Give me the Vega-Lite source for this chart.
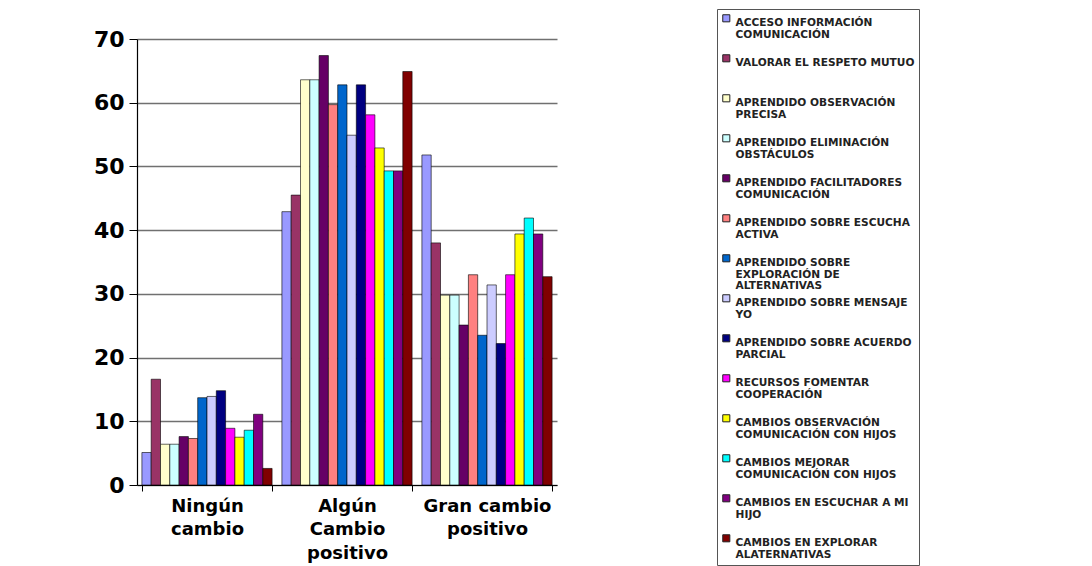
{
  "$schema": "https://vega.github.io/schema/vega-lite/v6.json",
  "width": 420,
  "height": 446,
  "autosize": "none",
  "padding": {"left": 137, "top": 39, "right": 535, "bottom": 81},
  "background": "white",
  "data": {
    "values": [
      {"grupo": "Ningún|cambio", "serie": "ACCESO INFORMACIÓN|COMUNICACIÓN", "valor": 5.1},
      {"grupo": "Ningún|cambio", "serie": "VALORAR EL RESPETO MUTUO", "valor": 16.6},
      {"grupo": "Ningún|cambio", "serie": "APRENDIDO OBSERVACIÓN|PRECISA", "valor": 6.4},
      {"grupo": "Ningún|cambio", "serie": "APRENDIDO ELIMINACIÓN|OBSTÁCULOS", "valor": 6.4},
      {"grupo": "Ningún|cambio", "serie": "APRENDIDO FACILITADORES|COMUNICACIÓN", "valor": 7.6},
      {"grupo": "Ningún|cambio", "serie": "APRENDIDO SOBRE ESCUCHA|ACTIVA", "valor": 7.3},
      {"grupo": "Ningún|cambio", "serie": "APRENDIDO SOBRE|EXPLORACIÓN DE|ALTERNATIVAS", "valor": 13.7},
      {"grupo": "Ningún|cambio", "serie": "APRENDIDO SOBRE MENSAJE|YO", "valor": 13.9},
      {"grupo": "Ningún|cambio", "serie": "APRENDIDO SOBRE ACUERDO|PARCIAL", "valor": 14.8},
      {"grupo": "Ningún|cambio", "serie": "RECURSOS FOMENTAR|COOPERACIÓN", "valor": 8.9},
      {"grupo": "Ningún|cambio", "serie": "CAMBIOS OBSERVACIÓN|COMUNICACIÓN CON HIJOS", "valor": 7.5},
      {"grupo": "Ningún|cambio", "serie": "CAMBIOS MEJORAR|COMUNICACIÓN CON HIJOS", "valor": 8.6},
      {"grupo": "Ningún|cambio", "serie": "CAMBIOS EN ESCUCHAR A MI|HIJO", "valor": 11.1},
      {"grupo": "Ningún|cambio", "serie": "CAMBIOS EN EXPLORAR|ALATERNATIVAS", "valor": 2.6},
      {"grupo": "Algún|Cambio|positivo", "serie": "ACCESO INFORMACIÓN|COMUNICACIÓN", "valor": 42.9},
      {"grupo": "Algún|Cambio|positivo", "serie": "VALORAR EL RESPETO MUTUO", "valor": 45.5},
      {"grupo": "Algún|Cambio|positivo", "serie": "APRENDIDO OBSERVACIÓN|PRECISA", "valor": 63.6},
      {"grupo": "Algún|Cambio|positivo", "serie": "APRENDIDO ELIMINACIÓN|OBSTÁCULOS", "valor": 63.6},
      {"grupo": "Algún|Cambio|positivo", "serie": "APRENDIDO FACILITADORES|COMUNICACIÓN", "valor": 67.4},
      {"grupo": "Algún|Cambio|positivo", "serie": "APRENDIDO SOBRE ESCUCHA|ACTIVA", "valor": 59.7},
      {"grupo": "Algún|Cambio|positivo", "serie": "APRENDIDO SOBRE|EXPLORACIÓN DE|ALTERNATIVAS", "valor": 62.8},
      {"grupo": "Algún|Cambio|positivo", "serie": "APRENDIDO SOBRE MENSAJE|YO", "valor": 54.9},
      {"grupo": "Algún|Cambio|positivo", "serie": "APRENDIDO SOBRE ACUERDO|PARCIAL", "valor": 62.8},
      {"grupo": "Algún|Cambio|positivo", "serie": "RECURSOS FOMENTAR|COOPERACIÓN", "valor": 58.1},
      {"grupo": "Algún|Cambio|positivo", "serie": "CAMBIOS OBSERVACIÓN|COMUNICACIÓN CON HIJOS", "valor": 52.9},
      {"grupo": "Algún|Cambio|positivo", "serie": "CAMBIOS MEJORAR|COMUNICACIÓN CON HIJOS", "valor": 49.3},
      {"grupo": "Algún|Cambio|positivo", "serie": "CAMBIOS EN ESCUCHAR A MI|HIJO", "valor": 49.3},
      {"grupo": "Algún|Cambio|positivo", "serie": "CAMBIOS EN EXPLORAR|ALATERNATIVAS", "valor": 64.9},
      {"grupo": "Gran cambio|positivo", "serie": "ACCESO INFORMACIÓN|COMUNICACIÓN", "valor": 51.8},
      {"grupo": "Gran cambio|positivo", "serie": "VALORAR EL RESPETO MUTUO", "valor": 38.0},
      {"grupo": "Gran cambio|positivo", "serie": "APRENDIDO OBSERVACIÓN|PRECISA", "valor": 29.8},
      {"grupo": "Gran cambio|positivo", "serie": "APRENDIDO ELIMINACIÓN|OBSTÁCULOS", "valor": 29.8},
      {"grupo": "Gran cambio|positivo", "serie": "APRENDIDO FACILITADORES|COMUNICACIÓN", "valor": 25.1},
      {"grupo": "Gran cambio|positivo", "serie": "APRENDIDO SOBRE ESCUCHA|ACTIVA", "valor": 33.0},
      {"grupo": "Gran cambio|positivo", "serie": "APRENDIDO SOBRE|EXPLORACIÓN DE|ALTERNATIVAS", "valor": 23.5},
      {"grupo": "Gran cambio|positivo", "serie": "APRENDIDO SOBRE MENSAJE|YO", "valor": 31.4},
      {"grupo": "Gran cambio|positivo", "serie": "APRENDIDO SOBRE ACUERDO|PARCIAL", "valor": 22.2},
      {"grupo": "Gran cambio|positivo", "serie": "RECURSOS FOMENTAR|COOPERACIÓN", "valor": 33.0},
      {"grupo": "Gran cambio|positivo", "serie": "CAMBIOS OBSERVACIÓN|COMUNICACIÓN CON HIJOS", "valor": 39.4},
      {"grupo": "Gran cambio|positivo", "serie": "CAMBIOS MEJORAR|COMUNICACIÓN CON HIJOS", "valor": 41.9},
      {"grupo": "Gran cambio|positivo", "serie": "CAMBIOS EN ESCUCHAR A MI|HIJO", "valor": 39.4},
      {"grupo": "Gran cambio|positivo", "serie": "CAMBIOS EN EXPLORAR|ALATERNATIVAS", "valor": 32.7}
    ]
  },
  "mark": {"type": "bar", "stroke": "#000000", "strokeWidth": 0.6},
  "encoding": {
    "x": {
      "field": "grupo",
      "type": "nominal",
      "sort": null,
      "scale": {"paddingInner": 0.07, "paddingOuter": 0.035},
      "axis": {
        "title": null,
        "labelAngle": 0,
        "labelExpr": "split(datum.label, '|')",
        "labelFont": "DejaVu Sans",
        "labelFontWeight": "bold",
        "labelFontSize": 18,
        "labelLineHeight": 23.5,
        "labelColor": "#000000",
        "labelBaseline": "top",
        "labelPadding": 6,
        "tickBand": "extent",
        "tickSize": 6,
        "tickColor": "#000000",
        "domainColor": "#000000",
        "domainWidth": 1.2,
        "grid": false
      }
    },
    "xOffset": {"field": "serie", "type": "nominal", "sort": null, "scale": {"paddingInner": 0, "paddingOuter": 0}},
    "y": {
      "field": "valor",
      "type": "quantitative",
      "scale": {"domain": [0, 70], "nice": false},
      "axis": {
        "title": null,
        "values": [0, 10, 20, 30, 40, 50, 60, 70],
        "labelFont": "DejaVu Sans",
        "labelFontWeight": "bold",
        "labelFontSize": 22,
        "labelColor": "#000000",
        "labelPadding": 5,
        "tickSize": 8,
        "tickColor": "#000000",
        "domainColor": "#000000",
        "domainWidth": 1.2,
        "grid": true,
        "gridColor": "#707070",
        "gridWidth": 1.3
      }
    },
    "color": {
      "field": "serie",
      "type": "nominal",
      "sort": null,
      "scale": {
        "range": ["#9999FF", "#993366", "#FFFFCC", "#CCFFFF", "#660066", "#FF8080", "#0066CC", "#CCCCFF", "#000080", "#FF00FF", "#FFFF00", "#00FFFF", "#800080", "#800000"]
      },
      "legend": {
        "title": null,
        "orient": "none",
        "legendX": 580,
        "legendY": -30,
        "labelExpr": "split(datum.label, '|')",
        "labelFont": "DejaVu Sans",
        "labelFontWeight": "bold",
        "labelFontSize": 10.6,
        "labelColor": "#222222",
        "labelLimit": 400,
        "labelBaseline": "top",
        "labelOffset": 4,
        "symbolType": "square",
        "symbolSize": 50,
        "symbolStrokeColor": "#222222",
        "symbolStrokeWidth": 1,
        "gridAlign": "all",
        "rowPadding": 0,
        "padding": 4,
        "strokeColor": "#555555"
      }
    }
  },
  "config": {
    "view": {"stroke": null},
    "style": {"guide-label": {"lineHeight": 11.5}}
  }
}
